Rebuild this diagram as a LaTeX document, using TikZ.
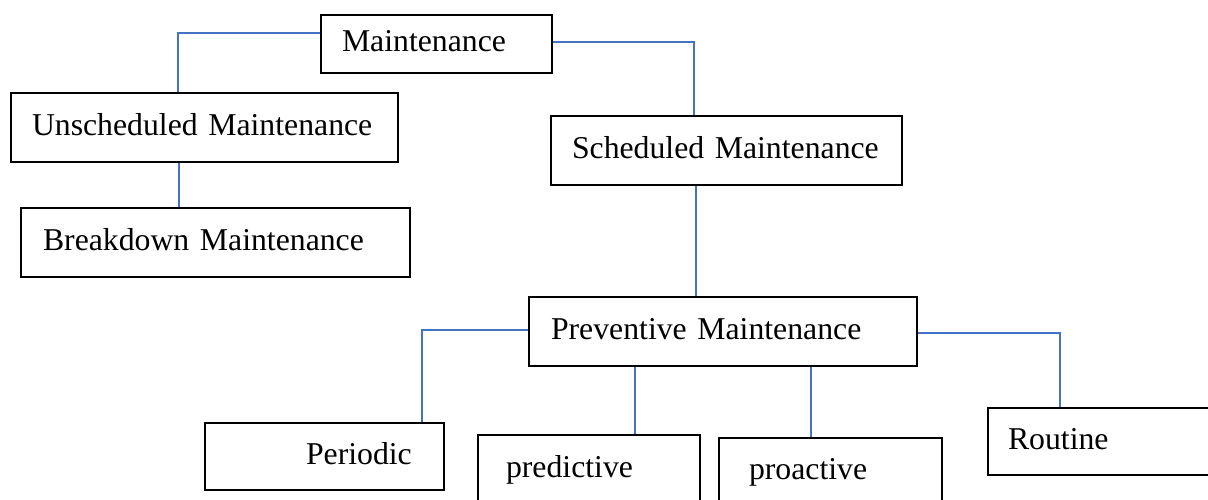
\documentclass[tikz,border=0pt]{standalone}
\usepackage{fontspec}
\setmainfont{Liberation Serif}
\definecolor{linkblue}{RGB}{68,114,196}

\begin{document}
\begin{tikzpicture}[x=1pt, y=-1pt,
    box/.style = {draw, line width=2pt, anchor=north west, inner sep=0pt, align=left,
      font=\fontsize{31.75}{38}\selectfont, text height=22pt, text depth=7pt},
    link/.style = {draw=linkblue, line width=1.3pt}]
  \useasboundingbox (0,0) rectangle (1208,499);
  \node[box, text width=231pt, minimum height=58pt](maint) at (320,14) {\hspace*{21pt}Maintenance};
  \node[box, text width=387pt, minimum height=69pt](unsch) at (10,92) {\hspace*{21pt}Unscheduled Maintenance};
  \node[box, text width=351pt, minimum height=69pt](sched) at (550,115) {\hspace*{21pt}Scheduled Maintenance};
  \node[box, text width=389pt, minimum height=69pt](brk) at (20,207) {\hspace*{22pt}Breakdown Maintenance};
  \node[box, text width=388pt, minimum height=69pt](prev) at (528,296) {\hspace*{22pt}Preventive Maintenance};
  \node[box, text width=239pt, minimum height=67pt](peri) at (204,422) {\hspace*{101pt}Periodic};
  \node[box, text width=222pt, minimum height=70pt](pred) at (477,434) {\hspace*{28pt}predictive};
  \node[box, text width=223pt, minimum height=67pt](proa) at (718,437) {\hspace*{30pt}proactive};
  \node[box, text width=225pt, minimum height=67pt](rout) at (987,407) {\hspace*{20pt}Routine};
  \draw[link] ([yshift=11pt]maint.west) -| ([xshift=-26.5pt]unsch.north);
  \draw[link] ([yshift=2pt]maint.east) -| ([xshift=-32.5pt]sched.north);
  \draw[link] ([xshift=-25.5pt]unsch.south) -- ([xshift=-25.5pt]unsch.south |- brk.north);
  \draw[link] ([xshift=-30.5pt]sched.south) -- ([xshift=-30.5pt]sched.south |- prev.north);
  \draw[link] ([yshift=1.5pt]prev.west) -| ([xshift=97.5pt]peri.north);
  \draw[link] ([xshift=-88pt]prev.south) -- ([xshift=-88pt]prev.south |- pred.north);
  \draw[link] ([xshift=88pt]prev.south) -- ([xshift=88pt]prev.south |- proa.north);
  \draw[link] ([yshift=-1.5pt]prev.east) -| ([xshift=-40.5pt]rout.north);
\end{tikzpicture}
\end{document}
